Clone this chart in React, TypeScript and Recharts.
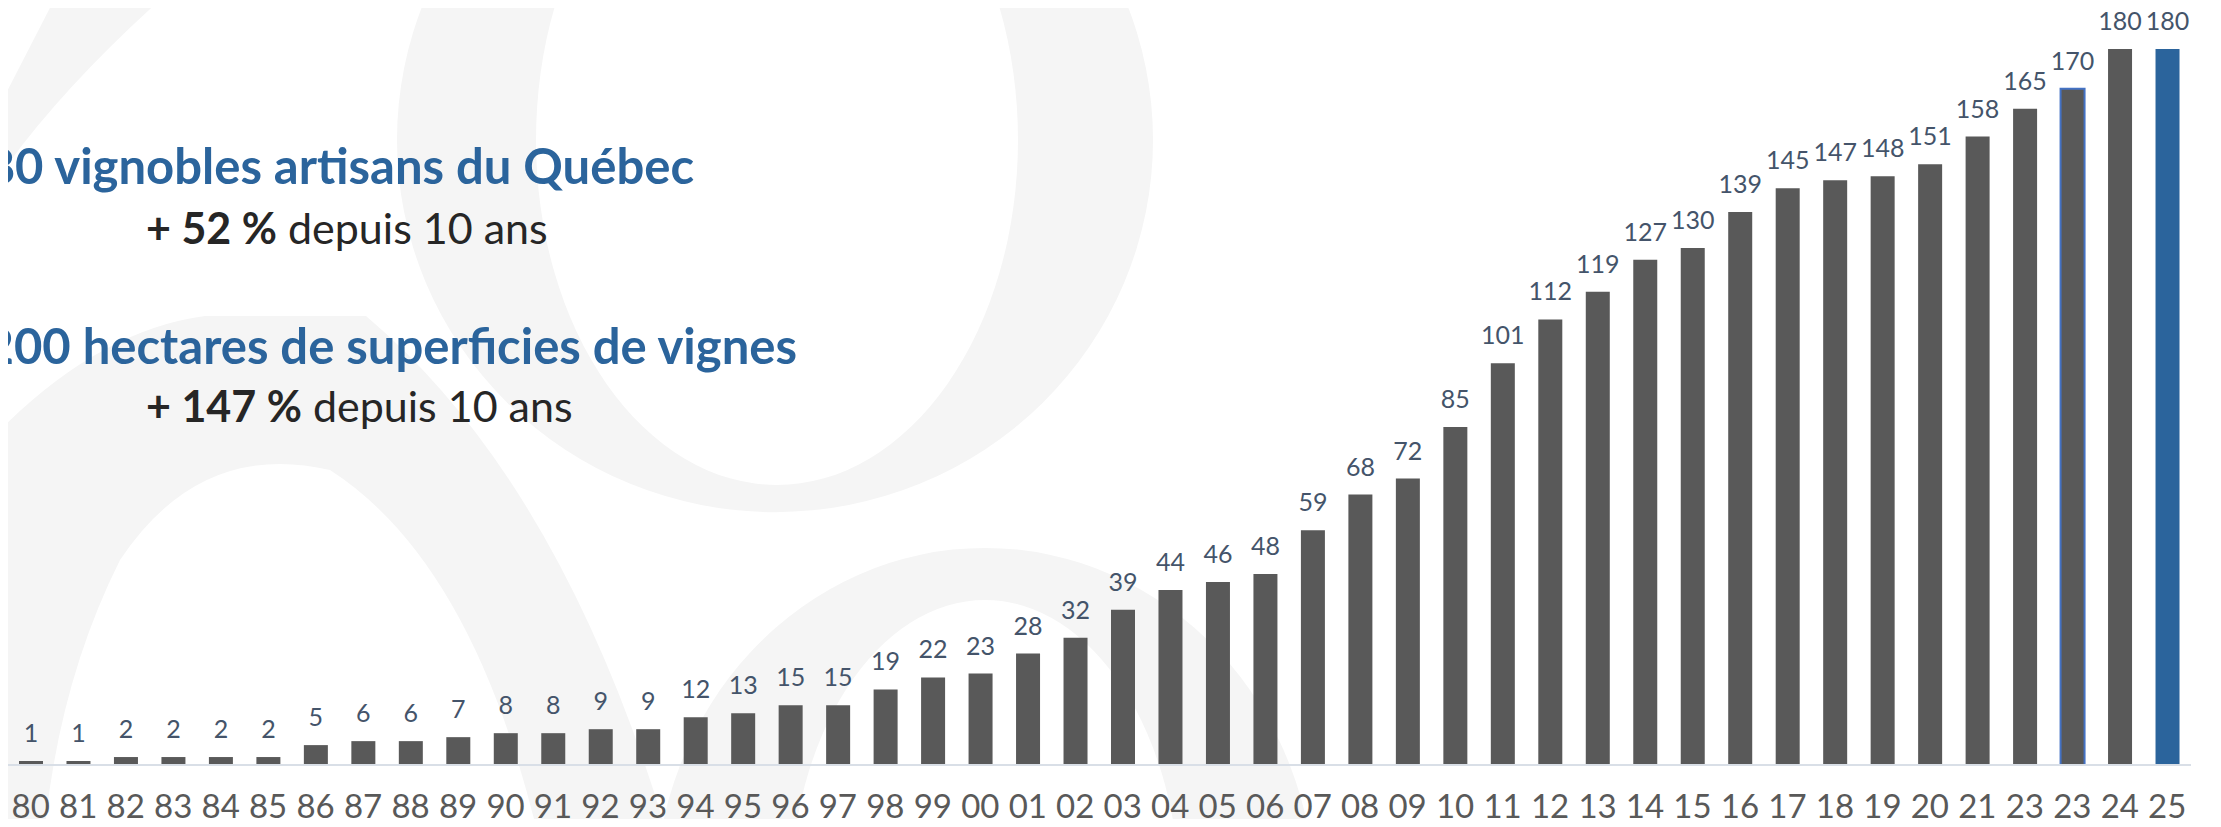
import { BarChart, Bar, XAxis, YAxis, Cell, LabelList } from "recharts";

// years shown on the axis (the source repeats "23")
const years = [
  "80", "81", "82", "83", "84", "85", "86", "87", "88", "89",
  "90", "91", "92", "93", "94", "95", "96", "97", "98", "99",
  "00", "01", "02", "03", "04", "05", "06", "07", "08", "09",
  "10", "11", "12", "13", "14", "15", "16", "17", "18", "19",
  "20", "21", "23", "23", "24", "25",
];

// number of vineyards
const vineyards = [
  1, 1, 2, 2, 2, 2, 5, 6, 6, 7,
  8, 8, 9, 9, 12, 13, 15, 15, 19, 22,
  23, 28, 32, 39, 44, 46, 48, 59, 68, 72,
  85, 101, 112, 119, 127, 130, 139, 145, 147, 148,
  151, 158, 165, 170, 180, 180,
];

const headlines = [
  "180 vignobles artisans du Québec",
  "1 200 hectares de superficies de vignes",
];
const growth = ["+ 52 %", "+ 147 %"];
const growthText = " depuis 10 ans";

const data = years.map((y, i) => ({ idx: i, year: y, value: vineyards[i] }));

const OUTLINED = 43;
const HIGHLIGHT = 45;
const FONT = "Lato, 'Open Sans', sans-serif";
const BLUE = "#2B649C";
const WATERMARK = "#F5F5F5";

// faint logo behind the chart
const Watermark = () => (
  <svg width={2221} height={827} style={{ position: "absolute", left: 0, top: 0 }}>
    <path
      fillRule="evenodd"
      fill={WATERMARK}
      d="M 397 140 A 378 372 0 1 0 1153 140 A 378 372 0 1 0 397 140 Z
         M 536 140 A 241 345 0 1 0 1018 140 A 241 345 0 1 0 536 140 Z"
    />
    <path
      fillRule="evenodd"
      fill={WATERMARK}
      d="M 655 900 A 330 352 0 1 0 1315 900 A 330 352 0 1 0 655 900 Z
         M 790 900 A 195 300 0 1 0 1180 900 A 195 300 0 1 0 790 900 Z"
    />
    <path
      fill={WATERMARK}
      d="M 0 430 Q 100 330 205 316 L 366 316 Q 560 480 665 827 L 536 827
         Q 470 560 330 470 Q 200 440 120 560 Q 60 680 45 827 L 0 827 Z"
    />
    <path fill={WATERMARK} d="M 54 0 L 160 0 Q 60 90 0 175 L 0 105 Z" />
  </svg>
);

export default function App() {
  return (
    <div
      style={{
        position: "relative",
        width: 2221,
        height: 827,
        margin: -8,
        overflow: "hidden",
        background: "#ffffff",
        fontFamily: FONT,
      }}
    >
      <Watermark />
      <div style={{ position: "absolute", left: 0, top: 0 }}>
        <BarChart
          width={2221}
          height={827}
          data={data}
          margin={{ top: 49, right: 30, left: 7, bottom: 0 }}
          barSize={24}
        >
          <XAxis
            dataKey="idx"
            tickFormatter={(i: number) => years[i]}
            interval={0}
            tickLine={false}
            axisLine={{ stroke: "#D9DFE7", strokeWidth: 2 }}
            tickMargin={24}
            height={62}
            tick={{ fontSize: 33, fill: "#595959", fontFamily: FONT }}
          />
          <YAxis hide domain={[0, 180]} />
          <Bar dataKey="value" fill="#595959" isAnimationActive={false}>
            {data.map((d) => (
              <Cell
                key={d.idx}
                fill={d.idx === HIGHLIGHT ? BLUE : "#595959"}
                stroke={d.idx === OUTLINED ? "#4472C4" : "none"}
                strokeWidth={d.idx === OUTLINED ? 2 : 0}
              />
            ))}
            <LabelList
              dataKey="value"
              position="top"
              offset={19}
              style={{ fontSize: 25, fill: "#44546A", fontFamily: FONT }}
            />
          </Bar>
        </BarChart>
      </div>
      <svg
        width={2221}
        height={827}
        style={{ position: "absolute", left: 0, top: 0, pointerEvents: "none" }}
      >
        <text x={694} y={184} textAnchor="end" fontSize={49} fontWeight={700} fill={BLUE} fontFamily={FONT}>
          {headlines[0]}
        </text>
        <text x={146} y={244} fontSize={43} fill="#262626" fontFamily={FONT}>
          <tspan fontWeight={700}>{growth[0]}</tspan>
          {growthText}
        </text>
        <text x={797} y={364} textAnchor="end" fontSize={49} fontWeight={700} fill={BLUE} fontFamily={FONT}>
          {headlines[1]}
        </text>
        <text x={146} y={422} fontSize={43} fill="#262626" fontFamily={FONT}>
          <tspan fontWeight={700}>{growth[1]}</tspan>
          {growthText}
        </text>
      </svg>
    </div>
  );
}
